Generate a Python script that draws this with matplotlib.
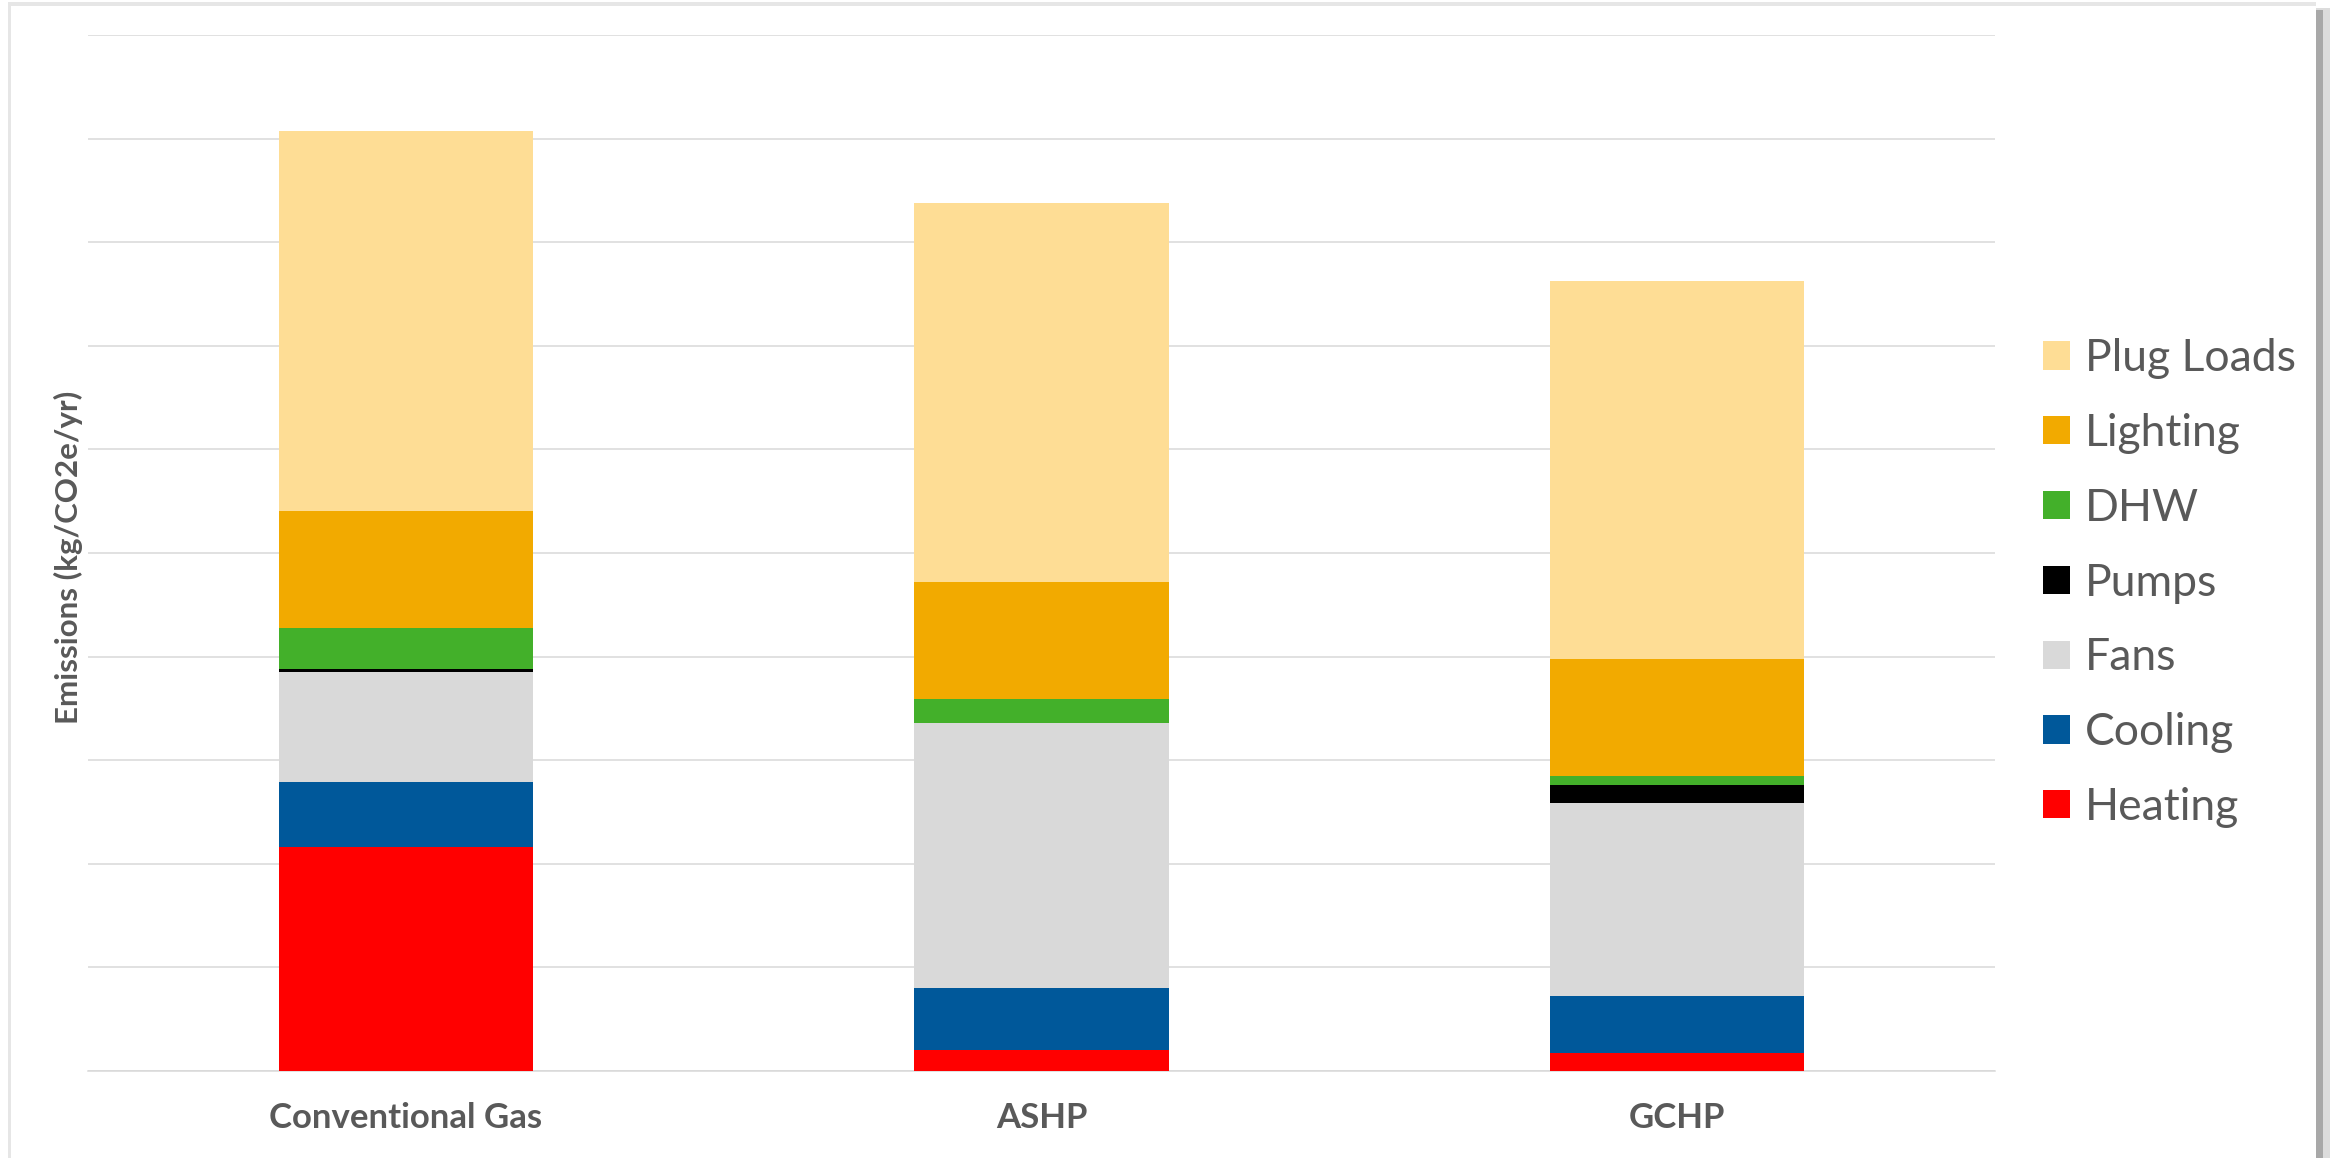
import matplotlib
matplotlib.use("Agg")
import matplotlib.pyplot as plt
from matplotlib.patches import Rectangle
import numpy as np

# values (kg CO2e/yr, arbitrary gridline units)
systems = ["Conventional Gas", "ASHP", "GCHP"]
end_uses = ["Heating", "Cooling", "Fans", "Pumps", "DHW", "Lighting", "Plug Loads"]
heating = [2.16, 0.20, 0.17]
cooling = [0.63, 0.60, 0.55]
fans = [1.06, 2.56, 1.87]
pumps = [0.03, 0.00, 0.17]
dhw = [0.40, 0.23, 0.09]
lighting = [1.13, 1.13, 1.13]
plug_loads = [3.66, 3.66, 3.65]

colors = ["#FF0000", "#00589A", "#D9D9D9", "#000000", "#43B02A", "#F2AA00", "#FEDD95"]
series = [heating, cooling, fans, pumps, dhw, lighting, plug_loads]

W, H = 2336, 1158
DPI = 100
TEXT = "#595959"
FONT = "Lato"

fig = plt.figure(figsize=(W / DPI, H / DPI), dpi=DPI)
fig.patch.set_facecolor("white")


def fx(x):
    return x / W


def fy(y):
    return 1 - y / H


# chart frame with a soft shadow, like an exported Excel chart
fig.add_artist(Rectangle((fx(2316), fy(1200)), fx(14), (1200 - 8) / H,
                         transform=fig.transFigure, facecolor="#dcdcdc", edgecolor="none", zorder=0))
fig.add_artist(Rectangle((fx(2316), fy(1200)), fx(7), (1200 - 10) / H,
                         transform=fig.transFigure, facecolor="#a8a8a8", edgecolor="none", zorder=0))
fig.add_artist(Rectangle((fx(8), fy(1200)), fx(2316 - 8), (1200 - 2) / H,
                         transform=fig.transFigure, facecolor="#e6e6e6", edgecolor="none", zorder=0))
fig.add_artist(Rectangle((fx(11), fy(1200)), fx(2316 - 11), (1200 - 6) / H,
                         transform=fig.transFigure, facecolor="white", edgecolor="none", zorder=0))

ax = fig.add_axes([fx(88), fy(1071), (1995 - 88) / W, (1071 - 35) / H])
ax.set_facecolor("none")

x = np.arange(len(systems))
bottom = np.zeros(len(systems))
handles = []
for name, vals, c in zip(end_uses, series, colors):
    ax.bar(x, vals, 0.4, bottom=bottom, color=c, edgecolor="none", zorder=3)
    bottom += np.array(vals)
    handles.append(Rectangle((0, 0), 1, 1, facecolor=c, edgecolor="none", label=name))

ax.set_xlim(-0.5, 2.5)
ax.set_ylim(0, 10)
ax.set_yticks(np.arange(0, 11, 1))
ax.yaxis.grid(True, color="#D9D9D9", linewidth=1.1, zorder=0)
ax.tick_params(axis="y", left=False, labelleft=False)
ax.tick_params(axis="x", length=0, pad=22)
ax.set_xticks(x)
ax.set_xticklabels(systems, fontsize=25, fontweight="bold", color=TEXT, family=FONT)
for s in ["left", "right", "top"]:
    ax.spines[s].set_visible(False)
ax.spines["bottom"].set_color("#D9D9D9")
ax.spines["bottom"].set_linewidth(1.1)

fig.text(fx(68), fy(557), "Emissions (kg/CO2e/yr)", rotation=90, ha="center", va="center",
         fontsize=22.5, fontweight="bold", color=TEXT, family=FONT)

leg = fig.legend(handles=handles[::-1], loc="center left",
                 bbox_to_anchor=(fx(2043), fy(583)), frameon=False,
                 fontsize=32, handlelength=0.6, handleheight=0.6,
                 handletextpad=0.34, labelspacing=0.76, borderaxespad=0, borderpad=0)
for t in leg.get_texts():
    t.set_color(TEXT)
    t.set_family(FONT)

fig.savefig("out.png", dpi=DPI)
plt.close(fig)
